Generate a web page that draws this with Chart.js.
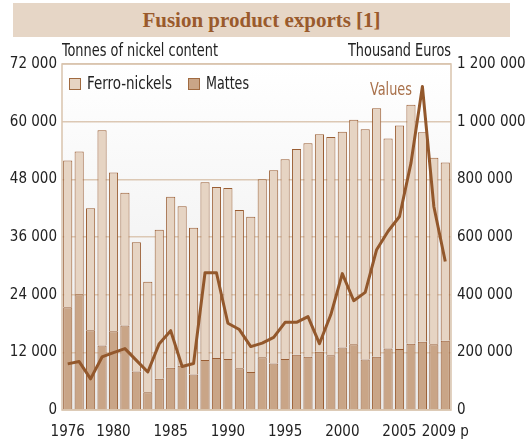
<!DOCTYPE html>
<html>
<head>
<meta charset="utf-8">
<script src="https://cdn.jsdelivr.net/npm/chart.js@4.4.0/dist/chart.umd.min.js"></script>
<style>
  html, body { margin: 0; padding: 0; background: #ffffff; }
  #wrap { position: relative; width: 532px; height: 440px; }
  #title {
    position: absolute; left: 13px; top: 3px; width: 497px; height: 34px;
    background: #E6D6C6; color: #9A5A2C;
    font-family: 'Liberation Serif', 'DejaVu Serif', serif; font-weight: bold;
    font-size: 21px; line-height: 34px; text-align: center;
  }
  canvas { position: absolute; left: 0; top: 0; }
</style>
</head>
<body>
<div id="wrap">
  <canvas id="c" width="532" height="440"></canvas>
  <div id="title">Fusion product exports [1]</div>
</div>
<script>
const years = ['1976','1977','1978','1979','1980','1981','1982','1983','1984','1985',
  '1986','1987','1988','1989','1990','1991','1992','1993','1994','1995',
  '1996','1997','1998','1999','2000','2001','2002','2003','2004','2005',
  '2006','2007','2008','2009'];
const shownTickLabels = ['1976','1980','1985','1990','1995','2000','2005','2009 p'];

// Tonnes of nickel content
const mattes = [21400,24100,16600,13400,16400,17600,8000,3700,6500,8800,
  9200,7400,10400,10800,10600,8700,7900,11000,9700,10600,
  11500,11100,12100,11400,13000,13700,10500,11100,12800,12700,
  13800,14200,13700,14400];
const ferroNickels = [30500,29700,25400,44800,33000,27600,26900,23000,31000,35600,
  33200,30500,37000,35600,35600,32900,32300,37000,40200,41600,
  42800,44400,45300,45400,44900,46700,47900,51700,43700,46500,
  49700,43600,38800,37100];
// Thousand Euros
const valuesKEur = [160000,168000,108000,184000,199000,213000,172000,132000,230000,275000,
  151000,161000,476000,476000,301000,279000,220000,232000,252000,304000,
  304000,324000,230000,331000,473000,379000,408000,556000,620000,671000,
  856000,1122000,706000,515000];

const leftTicks = [0,12000,24000,36000,48000,60000,72000];
const rightTicks = [0,200000,400000,600000,800000,1000000,1200000];

const FONT = "'Liberation Sans Narrow', 'DejaVu Sans Condensed', 'Roboto', sans-serif";
const fmt = v => String(v).replace(/\B(?=(\d{3})+(?!\d))/g, ' ');

function narrowText(ctx, text, x, y, size, targetWidth, align, color) {
  ctx.save();
  ctx.font = size + 'px ' + FONT;
  ctx.fillStyle = color;
  ctx.textBaseline = 'middle';
  ctx.textAlign = 'left';
  const w = ctx.measureText(text).width;
  const sx = targetWidth / w;
  const left = align === 'right' ? x - targetWidth : x;
  ctx.translate(left, y);
  ctx.scale(sx, 1);
  ctx.fillText(text, 0, 0);
  ctx.restore();
}

const decor = {
  id: 'decor',
  beforeDraw(chart) {
    const {ctx, chartArea: a} = chart;
    ctx.save();
    const g = ctx.createLinearGradient(0, a.top, 0, a.bottom);
    g.addColorStop(0, '#FFFFFF');
    g.addColorStop(1, '#EAEAEA');
    ctx.fillStyle = g;
    ctx.fillRect(a.left, a.top, a.right - a.left, a.bottom - a.top);
    ctx.restore();
  },
  afterDraw(chart) {
    const {ctx, chartArea: a} = chart;
    ctx.save();
    // frame
    ctx.strokeStyle = '#D9C3AD';
    ctx.lineWidth = 1.5;
    ctx.strokeRect(a.left, a.top, a.right - a.left, a.bottom - a.top);
    ctx.restore();
    // axis titles
    narrowText(ctx, 'Tonnes of nickel content', a.left, 52, 17, 156, 'left', '#222222');
    narrowText(ctx, 'Thousand Euros', a.right, 52, 17, 103, 'right', '#222222');
    // legend
    const items = [
      {label: 'Ferro-nickels', fill: '#E6D4C3', x: 69, w: 85},
      {label: 'Mattes', fill: '#C9A587', x: 188, w: 43}
    ];
    items.forEach(it => {
      ctx.save();
      ctx.fillStyle = it.fill;
      ctx.fillRect(it.x, 78, 11, 11);
      ctx.strokeStyle = '#A06A40';
      ctx.lineWidth = 1;
      ctx.strokeRect(it.x + 0.5, 78.5, 11, 11);
      ctx.restore();
      narrowText(ctx, it.label, it.x + 18, 84, 18, it.w, 'left', '#222222');
    });
    // series label
    narrowText(ctx, 'Values', 370, 90, 18, 42, 'left', '#A8704A');
  }
};

new Chart(document.getElementById('c'), {
  data: {
    labels: years,
    datasets: [
      {
        type: 'line', label: 'Values', data: valuesKEur, yAxisID: 'y1',
        borderColor: '#93582C', borderWidth: 3, pointRadius: 0, tension: 0,
        borderJoinStyle: 'round', fill: false, order: 0
      },
      {
        type: 'bar', label: 'Mattes', data: mattes, yAxisID: 'y', stack: 's',
        backgroundColor: '#C9A587', borderColor: '#9A5E34', borderWidth: 1,
        barPercentage: 0.8, categoryPercentage: 1.0, order: 1
      },
      {
        type: 'bar', label: 'Ferro-nickels', data: ferroNickels, yAxisID: 'y', stack: 's',
        backgroundColor: '#E6D4C3', borderColor: '#9A5E34', borderWidth: 1,
        barPercentage: 0.8, categoryPercentage: 1.0, order: 1
      }
    ]
  },
  options: {
    responsive: false,
    animation: false,
    devicePixelRatio: 1,
    layout: { padding: { top: 64, left: 0, right: 0, bottom: 0 } },
    plugins: { legend: { display: false }, tooltip: { enabled: false }, title: { display: false } },
    scales: {
      x: {
        stacked: true,
        grid: { display: false, drawTicks: false },
        border: { display: false },
        ticks: {
          autoSkip: false, maxRotation: 0, minRotation: 0, padding: 13,
          color: '#222222', font: { family: FONT, size: 15 },
          callback: function(v, i) {
            const y = years[i];
            const hit = shownTickLabels.find(s => s.split(' ')[0] === y);
            return hit || '';
          }
        },
        afterFit(scale) { scale.height = 30; }
      },
      y: {
        position: 'left', stacked: true, min: 0, max: 72000,
        grid: { color: '#DCC8B4', lineWidth: 1.5, drawTicks: false },
        border: { display: false },
        ticks: {
          stepSize: 12000, padding: 5, color: '#222222',
          font: { family: FONT, size: 15 },
          callback: v => leftTicks.includes(v) ? fmt(v) : ''
        },
        afterFit(scale) { scale.width = 62; }
      },
      y1: {
        position: 'right', stacked: false, min: 0, max: 1200000,
        grid: { display: false, drawTicks: false },
        border: { display: false },
        ticks: {
          stepSize: 200000, padding: 6, color: '#222222',
          font: { family: FONT, size: 15 },
          callback: v => rightTicks.includes(v) ? fmt(v) : ''
        },
        afterFit(scale) { scale.width = 81; }
      }
    }
  },
  plugins: [decor]
});
</script>
</body>
</html>
